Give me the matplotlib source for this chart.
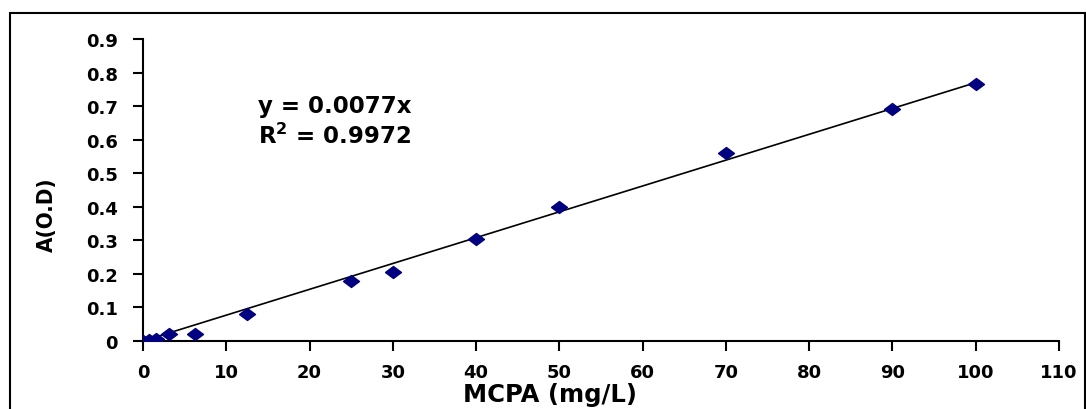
import numpy as np
import matplotlib
matplotlib.use("Agg")
from matplotlib import pyplot as plt
from matplotlib.patches import Rectangle

# MCPA calibration data
conc = [0, 0.78, 1.56, 3.125, 6.25, 12.5, 25, 30, 40, 50, 70, 90, 100]
absorb = [0, 0.003, 0.007, 0.02, 0.02, 0.08, 0.18, 0.205, 0.305, 0.4, 0.56, 0.69, 0.765]
slope = 0.0077
fit_x = [0, 100]

plt.rcParams['font.family'] = ['DejaVu Sans']
plt.rcParams['font.weight'] = 'bold'

fig = plt.figure(figsize=(10.86, 4.10), dpi=100)
ax = fig.add_axes([143/1086, 1-342/410, 916/1086, 302/410])

# outer frame (bottom edge falls outside the picture)
fig.patches.append(Rectangle((10/1086, -0.1), 1075/1086, 1-14/410+0.1,
                             transform=fig.transFigure, fill=False,
                             edgecolor='black', linewidth=1.5))

# wide flat diamond like the Excel marker
diamond = [(-1, 0), (0, 0.75), (1, 0), (0, -0.75), (-1, 0)]

ax.plot(fit_x, [slope*v for v in fit_x], color='black', linewidth=1.2, zorder=2)
ax.plot(conc, absorb, linestyle='none', marker=diamond, markersize=11.5,
        color='#000080', zorder=3)

ax.set_xlim(0, 110)
ax.set_ylim(0, 0.9)
ax.set_xticks(np.arange(0, 111, 10))
ax.set_yticks(np.arange(0, 0.91, 0.1))
ax.set_yticklabels(['0'] + [f'{v:.1f}' for v in np.arange(0.1, 0.91, 0.1)])

for s in ['top', 'right']:
    ax.spines[s].set_visible(False)
for s in ['left', 'bottom']:
    ax.spines[s].set_linewidth(1.5)
ax.tick_params(axis='both', direction='out', length=7, width=1.5, labelsize=13)
ax.tick_params(axis='y', pad=11)
ax.tick_params(axis='x', pad=9)

ax.set_xlabel('MCPA (mg/L)', fontsize=17.5, fontweight='bold')
ax.xaxis.set_label_coords(0.444, -0.135)
ax.set_ylabel('A(O.D)', fontsize=16, fontweight='bold', fontstretch='condensed')
ax.yaxis.set_label_coords(-0.094, 0.42)

ax.text(13.8, 0.682, 'y = 0.0077x', fontsize=16.5, fontweight='bold')
ax.text(13.8, 0.59, 'R$^\\mathbf{2}$ = 0.9972', fontsize=16.5, fontweight='bold')

fig.savefig('out.png', dpi=100)
